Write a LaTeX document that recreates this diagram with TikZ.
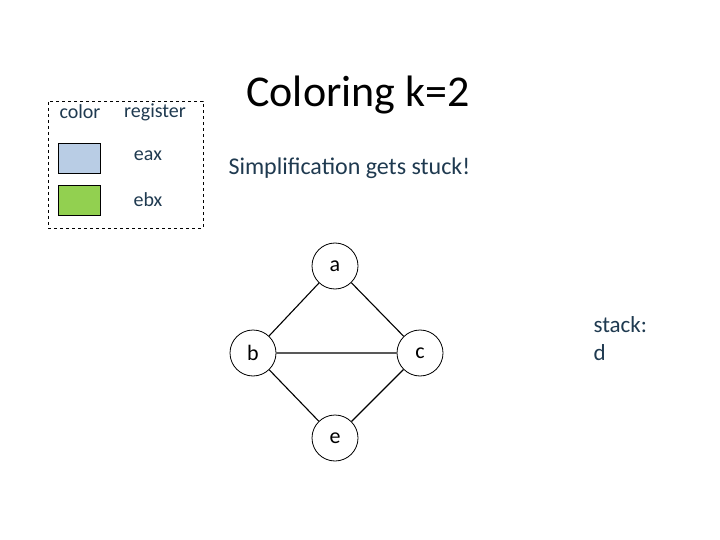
\documentclass[tikz,border=0pt]{standalone}
\usepackage{fontspec}
\setmainfont{Carlito}
\definecolor{txt}{HTML}{1F3A50}
\begin{document}
\begin{tikzpicture}[x=1pt,y=-1pt,
  v/.style={circle,draw,thick,minimum size=46pt,inner sep=0pt,font=\fontsize{22}{26}\selectfont,fill=white},
  lbl/.style={text=txt,font=\fontsize{20}{24}\selectfont},
  sw/.style={draw,thick,minimum width=42pt,minimum height=30pt,inner sep=0pt}]
\useasboundingbox (0,0) rectangle (720,540);
\node[draw,dashed,thick,minimum width=155pt,minimum height=127pt,inner sep=0pt] (legend) at (125.5,164.5) {};
\node[lbl] (hc) at (80,112) {color};
\node[lbl] (hr) at (155,112) {register};
\node[sw,fill={rgb,255:red,185;green,205;blue,229}] (s1) at (79,158) {};
\node[sw,fill={rgb,255:red,146;green,208;blue,80}] (s2) at (79,200) {};
\node[lbl] (t1) at (148,156) {eax};
\node[lbl] (t2) at (148,200) {ebx};
\node[font=\fontsize{44}{50}\selectfont] (title) at (358,95) {Coloring k=2};
\node[font=\fontsize{24}{28}\selectfont,anchor=west,text=txt] (sub) at (225,168) {Simplification gets stuck!};
\node[v] (a) at (335,266) {a};
\node[v] (b) at (253,353) {b};
\node[v] (c) at (420,353) {c};
\node[v] (e) at (335,438) {e};
\draw[line width=1.1pt] (a)--(b) (a)--(c) (b)--(c) (b)--(e) (c)--(e);
\node[font=\fontsize{23}{28}\selectfont,anchor=west,align=left,text=txt] (st) at (590,339) {stack:\\d};
\end{tikzpicture}
\end{document}
